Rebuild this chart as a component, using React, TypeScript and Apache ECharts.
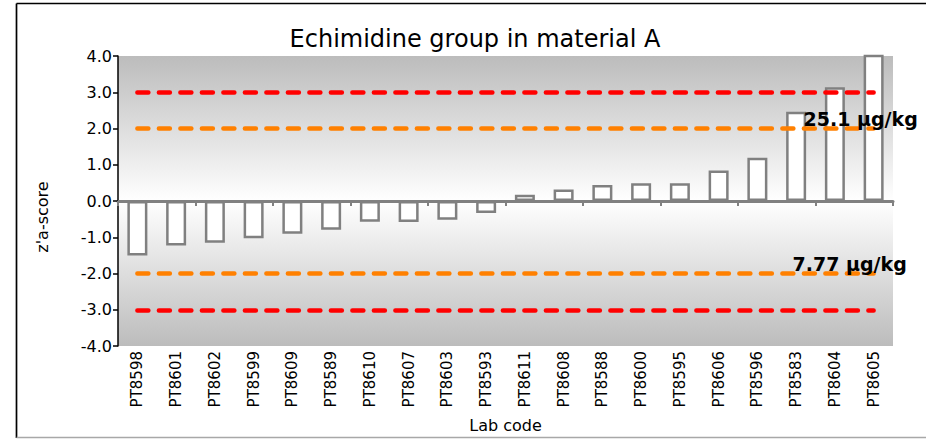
import React, { useEffect, useRef } from "react";
import * as echarts from "echarts";

const categories = [
  "PT8598", "PT8601", "PT8602", "PT8599", "PT8609", "PT8589", "PT8610",
  "PT8607", "PT8603", "PT8593", "PT8611", "PT8608", "PT8588", "PT8600",
  "PT8595", "PT8606", "PT8596", "PT8583", "PT8604", "PT8605",
];
const zScores = [
  -1.5, -1.23, -1.15, -1.03, -0.9, -0.79, -0.57, -0.58, -0.52, -0.33,
  0.17, 0.32, 0.44, 0.49, 0.49, 0.84, 1.19, 2.46, 3.14, 5.2,
];
const actionLimits = [3, -3];
const warningLimits = [2, -2];
const limitLabels = ["25.1 µg/kg", "7.77 µg/kg"];
const yTicks = { min: -4, max: 4, interval: 1 };

const FONT = "DejaVu Sans, Verdana, sans-serif";

export default function App() {
  const ref = useRef<HTMLDivElement>(null);
  useEffect(() => {
    if (!ref.current) return;
    const chart = echarts.init(ref.current, null, { renderer: "svg" });
    const first = categories[0];
    const last = categories[categories.length - 1];
    const limitLine = (v: number, color: string) => [
      { coord: [first, v], lineStyle: { color } },
      { coord: [last, v] },
    ];
    chart.setOption({
      animation: false,
      backgroundColor: "#ffffff",
      textStyle: { fontFamily: FONT },
      title: {
        text: "Echimidine group in material A",
        left: 470,
        top: 22,
        textAlign: "center",
        textStyle: { fontFamily: FONT, fontSize: 24, fontWeight: "normal", color: "#000" },
      },
      grid: {
        left: 118,
        right: 33,
        top: 56,
        bottom: 94,
        show: true,
        borderWidth: 0,
        containLabel: false,
        outerBoundsMode: "none",
        backgroundColor: new echarts.graphic.LinearGradient(0, 0, 0, 1, [
          { offset: 0, color: "#bcbcbc" },
          { offset: 0.5, color: "#ffffff" },
          { offset: 1, color: "#bcbcbc" },
        ]),
      },
      xAxis: [
        {
          type: "category",
          data: categories,
          position: "bottom",
          axisLine: { show: false, onZero: false },
          axisTick: { show: false },
          axisLabel: {
            rotate: 90,
            interval: 0,
            margin: 5,
            fontFamily: FONT,
            fontSize: 15,
            color: "#000",
          },
          name: "Lab code",
          nameLocation: "middle",
          nameGap: 71,
          nameTextStyle: { fontFamily: FONT, fontSize: 16, color: "#000" },
        },
        {
          type: "category",
          data: categories,
          position: "bottom",
          axisLine: { show: true, onZero: true, lineStyle: { color: "#808080", width: 3 } },
          axisTick: { show: true, length: 5, lineStyle: { color: "#808080", width: 2 } },
          axisLabel: { show: false },
        },
      ],
      yAxis: {
        type: "value",
        min: yTicks.min,
        max: yTicks.max,
        interval: yTicks.interval,
        splitLine: { show: false },
        axisLine: { show: true, onZero: false, lineStyle: { color: "#000", width: 1.5 } },
        axisTick: { show: true, length: 5, lineStyle: { color: "#000", width: 1.5 } },
        axisLabel: {
          formatter: (v: number) => v.toFixed(1),
          fontFamily: FONT,
          fontSize: 16,
          color: "#000",
          margin: 6,
        },
      },
      graphic: [
        {
          type: "line",
          shape: { x1: 16.5, y1: 3.5, x2: 930, y2: 3.5 },
          style: { stroke: "#000", lineWidth: 1.7 },
        },
        {
          type: "line",
          shape: { x1: 16.5, y1: 3.5, x2: 16.5, y2: 438 },
          style: { stroke: "#000", lineWidth: 1.7 },
        },
        {
          type: "line",
          shape: { x1: 16.5, y1: 437.5, x2: 930, y2: 437.5 },
          style: { stroke: "#a8a8a8", lineWidth: 1.7 },
        },
        {
          type: "text",
          x: 42,
          y: 217,
          rotation: Math.PI / 2,
          style: {
            text: "z'a-score",
            fontFamily: FONT,
            fontSize: 16,
            fill: "#000",
            align: "center",
            verticalAlign: "middle",
          },
        },
      ],
      series: [
        {
          type: "bar",
          data: zScores,
          xAxisIndex: 0,
          barWidth: 20,
          itemStyle: { color: "#ffffff", borderColor: "#808080", borderWidth: 2.5 },
          markLine: {
            silent: true,
            symbol: "none",
            z: 5,
            label: { show: false },
            lineStyle: { width: 4.5, type: [11, 10.5], cap: "round" },
            data: [
              limitLine(actionLimits[0], "#ff0000"),
              limitLine(actionLimits[1], "#ff0000"),
              limitLine(warningLimits[0], "#ff8000"),
              limitLine(warningLimits[1], "#ff8000"),
            ],
          },
          markPoint: {
            silent: true,
            z: 6,
            symbol: "circle",
            symbolSize: 0,
            label: {
              show: true,
              position: "top",
              distance: 2,
              fontFamily: FONT,
              fontSize: 19,
              fontWeight: "bold",
              color: "#000",
            },
            data: [
              {
                coord: [last, warningLimits[0]],
                label: { formatter: limitLabels[0], offset: [-13, 2] },
              },
              {
                coord: [last, warningLimits[1]],
                label: { formatter: limitLabels[1], offset: [-24, 2] },
              },
            ],
          },
        },
      ],
    });
    return () => chart.dispose();
  }, []);
  return (
    <div
      ref={ref}
      style={{ position: "fixed", left: 0, top: 0, width: 926, height: 440 }}
    />
  );
}
